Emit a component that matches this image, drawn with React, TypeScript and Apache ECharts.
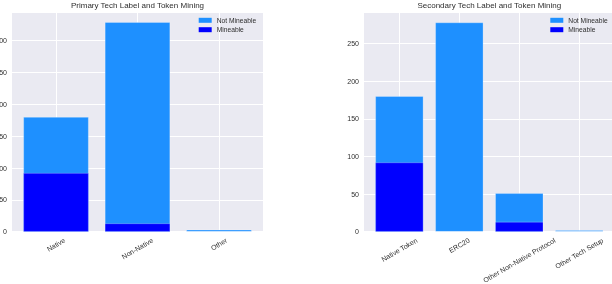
import React, { useEffect, useRef } from "react";
import * as echarts from "echarts";

const primaryCats = ["Native", "Non-Native", "Other"];
const primaryMineable = [92, 13, 0];
const primaryNotMineable = [88, 316, 3];

const secondaryCats = ["Native Token", "ERC20", "Other Non-Native Protocol", "Other Tech Setup"];
const secondaryMineable = [92, 0, 13, 0];
const secondaryNotMineable = [88, 278, 38, 2];

const primaryYMax = 345;
const secondaryYMax = 292;
const yTickStep = 50;

const FONT = "'Liberation Sans', Arial, Helvetica, sans-serif";
const TXT = "#2e2e2e";
const BLUE_LIGHT = "#1E90FF";
const BLUE = "#0000FF";
const BG = "#EAEAF2";
const LABEL_SIZE = 7;
const ROT = Math.PI / 6;

let measureCtx: CanvasRenderingContext2D | null = null;
function measure(text: string): number {
  if (!measureCtx) {
    measureCtx = document.createElement("canvas").getContext("2d");
  }
  if (!measureCtx) return text.length * LABEL_SIZE * 0.5;
  measureCtx.font = `${LABEL_SIZE}px ${FONT}`;
  return measureCtx.measureText(text).width;
}

function labelSeries(cats: string[], idx: number) {
  return {
    type: "custom",
    xAxisIndex: idx,
    yAxisIndex: idx,
    silent: true,
    clip: false,
    z: 5,
    data: cats.map((_, i) => [i, 0]),
    renderItem: (_params: any, api: any) => {
      const i = api.value(0);
      const p = api.coord([i, 0]);
      const label = cats[i];
      const w = measure(label);
      const h = LABEL_SIZE;
      const cy = p[1] + 5 + (w / 2) * Math.sin(ROT) + (h / 2) * Math.cos(ROT);
      return {
        type: "text",
        x: p[0],
        y: cy,
        rotation: ROT,
        style: {
          text: label,
          align: "center",
          verticalAlign: "middle",
          fontSize: LABEL_SIZE,
          fontFamily: FONT,
          fill: TXT,
        },
      };
    },
  };
}

// Stacked look: the total (mineable + not mineable) is drawn behind, the mineable part in front.
function barSeries(name: string, data: number[], color: string, idx: number) {
  return {
    type: "bar",
    name,
    xAxisIndex: idx,
    yAxisIndex: idx,
    barWidth: "80%",
    barGap: "-100%",
    data: data.map((v, i) => [i, v]),
    itemStyle: { color, borderColor: "rgba(255,255,255,0.5)", borderWidth: 0.5 },
  };
}

function totals(a: number[], b: number[]) {
  return a.map((v, i) => v + b[i]);
}

function xAxis(cats: string[], idx: number, min: number, max: number) {
  return {
    type: "value",
    gridIndex: idx,
    min,
    max,
    axisLine: { show: false },
    axisTick: { show: false, customValues: cats.map((_, i) => i) },
    axisLabel: { show: false },
    splitLine: { show: true, lineStyle: { color: "#ffffff", width: 1 } },
  };
}

function yAxis(idx: number, max: number) {
  return {
    type: "value",
    gridIndex: idx,
    min: 0,
    max,
    interval: yTickStep,
    axisLine: { show: false },
    axisTick: { show: false },
    axisLabel: {
      fontSize: LABEL_SIZE,
      fontFamily: FONT,
      color: TXT,
      margin: 5,
      showMaxLabel: false,
    },
    splitLine: { show: true, lineStyle: { color: "#ffffff", width: 1 } },
  };
}

function legend(left: number) {
  return {
    left,
    top: 16.3,
    padding: 0,
    orient: "vertical",
    data: ["Not Mineable", "Mineable"],
    icon: "rect",
    itemWidth: 13,
    itemHeight: 5,
    itemGap: 1.4,
    itemStyle: { borderWidth: 0 },
    textStyle: { fontSize: 6.7, fontFamily: FONT, color: TXT, lineHeight: 8 },
    selectedMode: false,
  };
}

export default function App() {
  const ref = useRef<HTMLDivElement>(null);
  useEffect(() => {
    if (!ref.current) return;
    const chart = echarts.init(ref.current, null, { renderer: "svg" });
    chart.setOption({
      animation: false,
      title: [
        {
          text: "Primary Tech Label and Token Mining",
          left: 137.5,
          top: 1.5,
          padding: 0,
          textAlign: "center",
          textStyle: { fontSize: 8, fontWeight: "normal", fontFamily: FONT, color: TXT },
        },
        {
          text: "Secondary Tech Label and Token Mining",
          left: 489.3,
          top: 1.5,
          padding: 0,
          textAlign: "center",
          textStyle: { fontSize: 8, fontWeight: "normal", fontFamily: FONT, color: TXT },
        },
      ],
      legend: [legend(198.7), legend(550.3)],
      grid: [
        { left: 12, top: 12, width: 251, height: 219.7, show: true, backgroundColor: BG, borderWidth: 0, containLabel: false, outerBoundsMode: "none" },
        { left: 364, top: 12, width: 250.6, height: 219.7, show: true, backgroundColor: BG, borderWidth: 0, containLabel: false, outerBoundsMode: "none" },
      ],
      xAxis: [xAxis(primaryCats, 0, -0.54, 2.54), xAxis(secondaryCats, 1, -0.59, 3.59)],
      yAxis: [yAxis(0, primaryYMax), yAxis(1, secondaryYMax)],
      series: [
        barSeries("Not Mineable", totals(primaryMineable, primaryNotMineable), BLUE_LIGHT, 0),
        barSeries("Mineable", primaryMineable, BLUE, 0),
        barSeries("Not Mineable", totals(secondaryMineable, secondaryNotMineable), BLUE_LIGHT, 1),
        barSeries("Mineable", secondaryMineable, BLUE, 1),
        labelSeries(primaryCats, 0),
        labelSeries(secondaryCats, 1),
      ],
    });
    return () => chart.dispose();
  }, []);
  return (
    <div
      ref={ref}
      style={{ position: "fixed", left: 0, top: 0, width: 612, height: 284 }}
    />
  );
}
